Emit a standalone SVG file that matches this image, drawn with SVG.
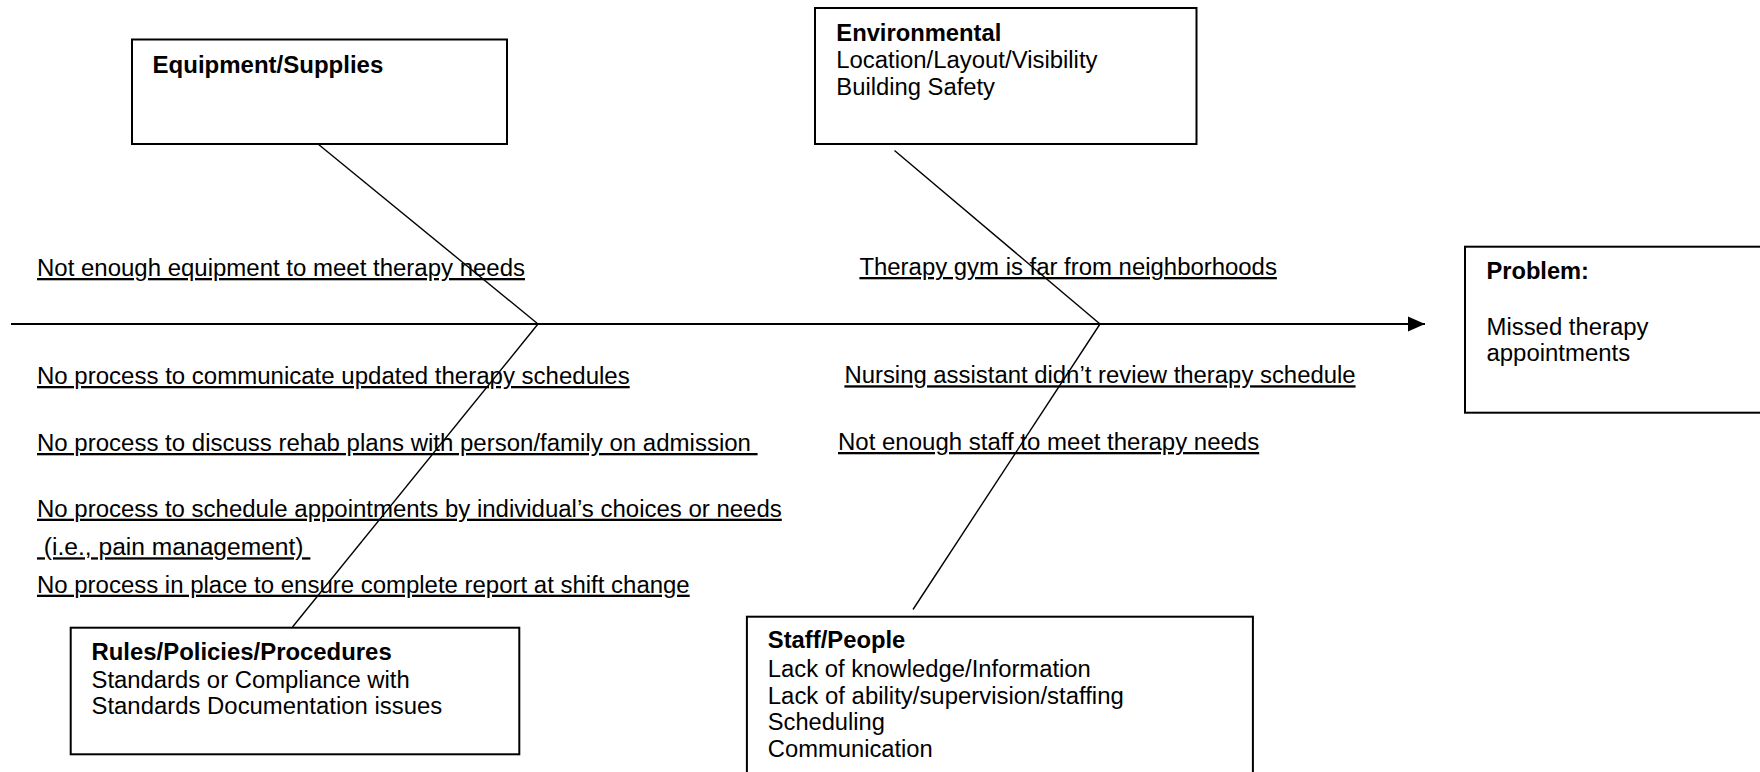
<svg xmlns="http://www.w3.org/2000/svg" width="1760" height="772" viewBox="0 0 1760 772">
<style>
  text { font-family: "Liberation Sans", Arial, sans-serif; font-size: 23px; fill: #000; }
  .b { font-weight: bold; }
  .u { text-decoration: underline; white-space: pre; }
  .box { fill: #fff; stroke: #000; stroke-width: 2; }
  .bone { stroke: #000; stroke-width: 1.4; fill: none; }
  .spine { stroke: #000; stroke-width: 2.2; fill: none; }
</style>
<defs>
  <marker id="arrow" markerUnits="userSpaceOnUse" markerWidth="18" markerHeight="16" refX="17" refY="8" orient="auto">
    <polygon points="0,0.5 17,8 0,15.5" fill="#000"/>
  </marker>
</defs>
<rect x="0" y="0" width="1760" height="772" fill="#fff"/>

<g id="connectors">
  <line class="spine" x1="11" y1="324" x2="1425" y2="324" marker-end="url(#arrow)"/>
  <line class="bone" x1="318" y1="144" x2="538" y2="324"/>
  <line class="bone" x1="538" y1="324" x2="292.5" y2="627"/>
  <line class="bone" x1="894.5" y1="150.5" x2="1100" y2="324"/>
  <line class="bone" x1="1100" y1="324" x2="913" y2="609.5"/>
</g>

<g id="equipment">
  <rect class="box" x="132" y="39.5" width="375" height="104.5"/>
  <text class="b" x="152.6" y="73.3" textLength="230.7" lengthAdjust="spacingAndGlyphs">Equipment/Supplies</text>
</g>

<g id="environmental">
  <rect class="box" x="815" y="8" width="381.5" height="136"/>
  <text class="b" x="836.3" y="40.7" textLength="165" lengthAdjust="spacingAndGlyphs">Environmental</text>
  <text x="836.3" y="68.3" textLength="261.2" lengthAdjust="spacingAndGlyphs">Location/Layout/Visibility</text>
  <text x="836.3" y="95" textLength="158.7" lengthAdjust="spacingAndGlyphs">Building Safety</text>
</g>

<g id="rules">
  <rect class="box" x="70.7" y="627.7" width="448.6" height="126.6"/>
  <text class="b" x="91.5" y="660" textLength="300.2" lengthAdjust="spacingAndGlyphs">Rules/Policies/Procedures</text>
  <text x="91.5" y="687.7" textLength="318.2" lengthAdjust="spacingAndGlyphs">Standards or Compliance with</text>
  <text x="91.5" y="714.3" textLength="350.7" lengthAdjust="spacingAndGlyphs">Standards Documentation issues</text>
</g>

<g id="staff">
  <rect class="box" x="746.9" y="616.7" width="506" height="170"/>
  <text class="b" x="767.8" y="648.3" textLength="137.5" lengthAdjust="spacingAndGlyphs">Staff/People</text>
  <text x="767.8" y="676.7" textLength="323" lengthAdjust="spacingAndGlyphs">Lack of knowledge/Information</text>
  <text x="767.8" y="704" textLength="356" lengthAdjust="spacingAndGlyphs">Lack of ability/supervision/staffing</text>
  <text x="767.8" y="730" textLength="117" lengthAdjust="spacingAndGlyphs">Scheduling</text>
  <text x="767.8" y="757.3" textLength="165" lengthAdjust="spacingAndGlyphs">Communication</text>
</g>

<g id="problem">
  <rect class="box" x="1465" y="246.7" width="310" height="166"/>
  <text class="b" x="1486.5" y="279" textLength="102.5" lengthAdjust="spacingAndGlyphs">Problem:</text>
  <text x="1486.5" y="334.5" textLength="162" lengthAdjust="spacingAndGlyphs">Missed therapy</text>
  <text x="1486.5" y="361" textLength="143.7" lengthAdjust="spacingAndGlyphs">appointments</text>
</g>

<g id="causes">
  <text class="u" x="37" y="276" textLength="488" lengthAdjust="spacingAndGlyphs">Not enough equipment to meet therapy needs</text>
  <text class="u" x="37" y="384" textLength="592.7" lengthAdjust="spacingAndGlyphs">No process to communicate updated therapy schedules</text>
  <text class="u" x="37" y="451" textLength="720.6" lengthAdjust="spacingAndGlyphs" xml:space="preserve">No process to discuss rehab plans with person/family on admission </text>
  <text class="u" x="37" y="516.7" textLength="744.8" lengthAdjust="spacingAndGlyphs">No process to schedule appointments by individual’s choices or needs</text>
  <text class="u" x="37" y="555.3" textLength="273.4" lengthAdjust="spacingAndGlyphs" xml:space="preserve"> (i.e., pain management) </text>
  <text class="u" x="37" y="592.7" textLength="652.7" lengthAdjust="spacingAndGlyphs">No process in place to ensure complete report at shift change</text>
  <text class="u" x="859.4" y="275" textLength="417.5" lengthAdjust="spacingAndGlyphs">Therapy gym is far from neighborhoods</text>
  <text class="u" x="844.4" y="383.3" textLength="511.2" lengthAdjust="spacingAndGlyphs">Nursing assistant didn’t review therapy schedule</text>
  <text class="u" x="838" y="450" textLength="421.2" lengthAdjust="spacingAndGlyphs">Not enough staff to meet therapy needs</text>
</g>
</svg>
